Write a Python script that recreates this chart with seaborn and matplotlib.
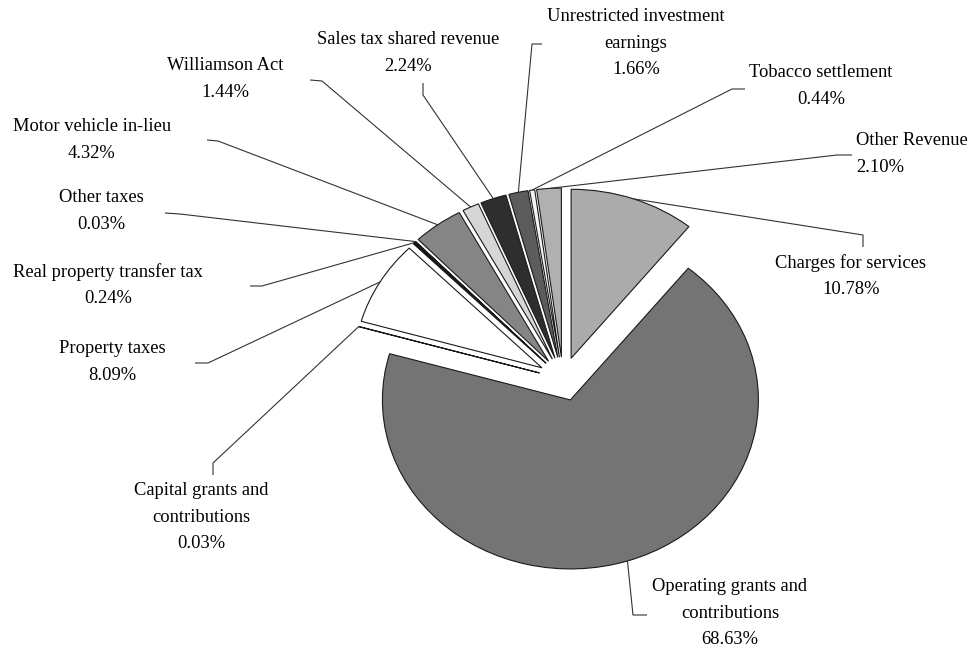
import numpy as np
import matplotlib
matplotlib.use("Agg")
import matplotlib.pyplot as plt
import seaborn as sns

# Revenue sources, clockwise from 12 o'clock
categories = [
    "Charges for services",
    "Operating grants and\ncontributions",
    "Capital grants and\ncontributions",
    "Property taxes",
    "Real property transfer tax",
    "Other taxes",
    "Motor vehicle in-lieu",
    "Williamson Act",
    "Sales tax shared revenue",
    "Unrestricted investment\nearnings",
    "Tobacco settlement",
    "Other Revenue",
]
shares = [10.78, 68.63, 0.03, 8.09, 0.24, 0.03, 4.32, 1.44, 2.24, 1.66, 0.44, 2.10]

slice_colors = [
    "#ababab", "#747474", "#ffffff", "#ffffff", "#111111", "#ffffff",
    "#858585", "#d6d6d6", "#2e2e2e", "#5c5c5c", "#f4f4f4", "#b0b0b0",
]

sns.set_theme(style="white")
plt.rcParams["font.family"] = ["Liberation Serif", "DejaVu Serif"]

W, H = 973, 650
CX, CY = 563, 379          # pie centre in pixels
RX, RY = 188, 169          # pixel size of one data unit (pie is slightly wide)


def px(x, y):
    """Pixel position (from top-left) to data coordinates."""
    return (x - CX) / RX, (CY - y) / RY


fig = plt.figure(figsize=(W / 100, H / 100), dpi=100)
ax = fig.add_axes([0, 0, 1, 1])

wedges, _ = ax.pie(
    shares,
    colors=slice_colors,
    startangle=90,
    counterclock=False,
    explode=[0.13] * len(shares),
    radius=1.0,
    wedgeprops=dict(edgecolor="#1a1a1a", linewidth=0.8),
)
ax.set_aspect("auto")
ax.set_xlim(-CX / RX, (W - CX) / RX)
ax.set_ylim(-(H - CY) / RY, CY / RY)
ax.axis("off")

# label anchor (pixels), alignment, and leader bend points (pixels, from label toward slice)
label_layout = [
    ((851, 276), "center", [(863, 247), (863, 235)]),
    ((730, 613), "center", [(647, 615), (633, 615)]),
    ((201, 517), "center", [(213, 475), (213, 463)]),
    ((112, 362), "center", [(195, 363), (208, 363)]),
    ((108, 285), "center", [(250, 286), (262, 286)]),
    ((101, 211), "center", [(165, 213), (180, 214)]),
    ((92, 140), "center", [(207, 140), (218, 141)]),
    ((225, 79), "center", [(310, 80), (322, 81)]),
    ((408, 53), "center", [(423, 83), (423, 95)]),
    ((636, 43), "center", [(542, 44), (532, 44)]),
    ((821, 86), "center", [(745, 89), (732, 89)]),
    ((856, 154), "left", [(852, 155), (837, 155)]),
]

for w, cat, val, (pos, align, bends) in zip(wedges, categories, shares, label_layout):
    mid = np.deg2rad((w.theta1 + w.theta2) / 2)
    ex, ey = w.center[0] + w.r * np.cos(mid), w.center[1] + w.r * np.sin(mid)
    pts = [px(*b) for b in bends] + [(ex, ey)]
    ax.plot([p[0] for p in pts], [p[1] for p in pts], color="#333333", lw=0.8,
            solid_capstyle="butt")
    tx, ty = px(*pos)
    ax.text(tx, ty, f"{cat}\n{val:.2f}%", ha=align, va="center",
            multialignment=align, fontsize=13.3, linespacing=1.7, color="black")

fig.savefig("out.png", dpi=100, facecolor="white")
